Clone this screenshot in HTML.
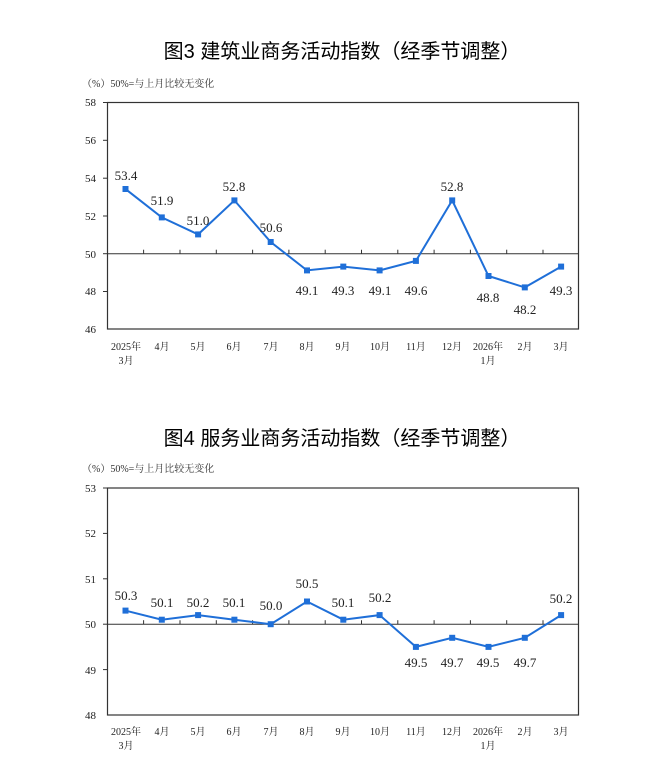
<!DOCTYPE html>
<html><head><meta charset="utf-8"><style>
body{margin:0;background:#fff;}
svg{display:block}
.t{font-family:"Liberation Sans","Noto Sans CJK SC",sans-serif;font-size:20px;fill:#000;text-anchor:middle}
.s{font-family:"Liberation Serif","Noto Serif CJK SC",serif;font-size:10px;fill:#333}
.v{font-family:"Liberation Serif",serif;font-size:13px;fill:#222;text-anchor:middle}
.y{font-family:"Liberation Serif",serif;font-size:11px;fill:#222;text-anchor:end}
.x{font-family:"Liberation Serif","Noto Serif CJK SC",serif;font-size:10px;fill:#222;text-anchor:middle}
</style></head><body>
<svg width="672" height="784" xmlns="http://www.w3.org/2000/svg">
<text class="t" x="342" y="58">图3  建筑业商务活动指数（经季节调整）</text>
<text class="s" x="82" y="87">（%）50%=与上月比较无变化</text>
<rect x="107.5" y="102.5" width="471" height="226.5" fill="none" stroke="#333" stroke-width="1.2"/>
<line x1="107" y1="253.7" x2="579" y2="253.7" stroke="#333" stroke-width="1"/>
<g stroke="#333"><line x1="103" y1="102.5" x2="107" y2="102.5"/><line x1="103" y1="140.3" x2="107" y2="140.3"/><line x1="103" y1="178.2" x2="107" y2="178.2"/><line x1="103" y1="216" x2="107" y2="216"/><line x1="103" y1="253.7" x2="107" y2="253.7"/><line x1="103" y1="291.5" x2="107" y2="291.5"/>
<line x1="143.6" y1="249.7" x2="143.6" y2="253.7"/><line x1="180" y1="249.7" x2="180" y2="253.7"/><line x1="216.3" y1="249.7" x2="216.3" y2="253.7"/><line x1="252.6" y1="249.7" x2="252.6" y2="253.7"/><line x1="288.9" y1="249.7" x2="288.9" y2="253.7"/><line x1="325.2" y1="249.7" x2="325.2" y2="253.7"/><line x1="361.5" y1="249.7" x2="361.5" y2="253.7"/><line x1="397.8" y1="249.7" x2="397.8" y2="253.7"/><line x1="434.1" y1="249.7" x2="434.1" y2="253.7"/><line x1="470.4" y1="249.7" x2="470.4" y2="253.7"/><line x1="506.7" y1="249.7" x2="506.7" y2="253.7"/><line x1="543" y1="249.7" x2="543" y2="253.7"/></g>
<text class="y" x="96" y="106">58</text><text class="y" x="96" y="144">56</text><text class="y" x="96" y="182">54</text><text class="y" x="96" y="220">52</text><text class="y" x="96" y="258">50</text><text class="y" x="96" y="295">48</text><text class="y" x="96" y="333">46</text>
<polyline fill="none" stroke="#1f6fd8" stroke-width="2" points="125.5,189 161.8,217.4 198.1,234.4 234.4,200.4 270.7,242 307,270.4 343.3,266.6 379.6,270.4 415.9,260.9 452.2,200.4 488.5,276 524.8,287.4 561.1,266.6"/>
<g fill="#1f6fd8"><rect x="122.5" y="186" width="6" height="6"/><rect x="158.8" y="214.4" width="6" height="6"/><rect x="195.1" y="231.4" width="6" height="6"/><rect x="231.4" y="197.4" width="6" height="6"/><rect x="267.7" y="239" width="6" height="6"/><rect x="304" y="267.4" width="6" height="6"/><rect x="340.3" y="263.6" width="6" height="6"/><rect x="376.6" y="267.4" width="6" height="6"/><rect x="412.9" y="257.9" width="6" height="6"/><rect x="449.2" y="197.4" width="6" height="6"/><rect x="485.5" y="273" width="6" height="6"/><rect x="521.8" y="284.4" width="6" height="6"/><rect x="558.1" y="263.6" width="6" height="6"/></g>
<text class="v" x="126" y="180">53.4</text><text class="v" x="162" y="205">51.9</text><text class="v" x="198" y="225">51.0</text><text class="v" x="234" y="191">52.8</text><text class="v" x="271" y="232">50.6</text><text class="v" x="307" y="295">49.1</text><text class="v" x="343" y="295">49.3</text><text class="v" x="380" y="295">49.1</text><text class="v" x="416" y="295">49.6</text><text class="v" x="452" y="191">52.8</text><text class="v" x="488" y="302">48.8</text><text class="v" x="525" y="314">48.2</text><text class="v" x="561" y="295">49.3</text>
<g class="x"><text class="x" x="126" y="350">2025年</text><text class="x" x="126" y="364">3月</text><text class="x" x="162" y="350">4月</text><text class="x" x="198" y="350">5月</text><text class="x" x="234" y="350">6月</text><text class="x" x="271" y="350">7月</text><text class="x" x="307" y="350">8月</text><text class="x" x="343" y="350">9月</text><text class="x" x="380" y="350">10月</text><text class="x" x="416" y="350">11月</text><text class="x" x="452" y="350">12月</text><text class="x" x="488" y="350">2026年</text><text class="x" x="488" y="364">1月</text><text class="x" x="525" y="350">2月</text><text class="x" x="561" y="350">3月</text></g>

<text class="t" x="342" y="445">图4  服务业商务活动指数（经季节调整）</text>
<text class="s" x="82" y="472">（%）50%=与上月比较无变化</text>
<rect x="107.5" y="488" width="471" height="227" fill="none" stroke="#333" stroke-width="1.2"/>
<line x1="107" y1="624.2" x2="579" y2="624.2" stroke="#333" stroke-width="1"/>
<g stroke="#333"><line x1="103" y1="488" x2="107" y2="488"/><line x1="103" y1="533.4" x2="107" y2="533.4"/><line x1="103" y1="578.8" x2="107" y2="578.8"/><line x1="103" y1="624.2" x2="107" y2="624.2"/><line x1="103" y1="669.6" x2="107" y2="669.6"/>
<line x1="143.6" y1="620.2" x2="143.6" y2="624.2"/><line x1="180" y1="620.2" x2="180" y2="624.2"/><line x1="216.3" y1="620.2" x2="216.3" y2="624.2"/><line x1="252.6" y1="620.2" x2="252.6" y2="624.2"/><line x1="288.9" y1="620.2" x2="288.9" y2="624.2"/><line x1="325.2" y1="620.2" x2="325.2" y2="624.2"/><line x1="361.5" y1="620.2" x2="361.5" y2="624.2"/><line x1="397.8" y1="620.2" x2="397.8" y2="624.2"/><line x1="434.1" y1="620.2" x2="434.1" y2="624.2"/><line x1="470.4" y1="620.2" x2="470.4" y2="624.2"/><line x1="506.7" y1="620.2" x2="506.7" y2="624.2"/><line x1="543" y1="620.2" x2="543" y2="624.2"/></g>
<text class="y" x="96" y="492">53</text><text class="y" x="96" y="537">52</text><text class="y" x="96" y="583">51</text><text class="y" x="96" y="628">50</text><text class="y" x="96" y="674">49</text><text class="y" x="96" y="719">48</text>
<polyline fill="none" stroke="#1f6fd8" stroke-width="2" points="125.5,610.6 161.8,619.7 198.1,615.1 234.4,619.7 270.7,624.2 307,601.5 343.3,619.7 379.6,615.1 415.9,646.9 452.2,637.8 488.5,646.9 524.8,637.8 561.1,615.1"/>
<g fill="#1f6fd8"><rect x="122.5" y="607.6" width="6" height="6"/><rect x="158.8" y="616.7" width="6" height="6"/><rect x="195.1" y="612.1" width="6" height="6"/><rect x="231.4" y="616.7" width="6" height="6"/><rect x="267.7" y="621.2" width="6" height="6"/><rect x="304" y="598.5" width="6" height="6"/><rect x="340.3" y="616.7" width="6" height="6"/><rect x="376.6" y="612.1" width="6" height="6"/><rect x="412.9" y="643.9" width="6" height="6"/><rect x="449.2" y="634.8" width="6" height="6"/><rect x="485.5" y="643.9" width="6" height="6"/><rect x="521.8" y="634.8" width="6" height="6"/><rect x="558.1" y="612.1" width="6" height="6"/></g>
<text class="v" x="126" y="600">50.3</text><text class="v" x="162" y="607">50.1</text><text class="v" x="198" y="607">50.2</text><text class="v" x="234" y="607">50.1</text><text class="v" x="271" y="610">50.0</text><text class="v" x="307" y="588">50.5</text><text class="v" x="343" y="607">50.1</text><text class="v" x="380" y="602">50.2</text><text class="v" x="416" y="667">49.5</text><text class="v" x="452" y="667">49.7</text><text class="v" x="488" y="667">49.5</text><text class="v" x="525" y="667">49.7</text><text class="v" x="561" y="603">50.2</text>
<g><text class="x" x="126" y="735">2025年</text><text class="x" x="126" y="749">3月</text><text class="x" x="162" y="735">4月</text><text class="x" x="198" y="735">5月</text><text class="x" x="234" y="735">6月</text><text class="x" x="271" y="735">7月</text><text class="x" x="307" y="735">8月</text><text class="x" x="343" y="735">9月</text><text class="x" x="380" y="735">10月</text><text class="x" x="416" y="735">11月</text><text class="x" x="452" y="735">12月</text><text class="x" x="488" y="735">2026年</text><text class="x" x="488" y="749">1月</text><text class="x" x="525" y="735">2月</text><text class="x" x="561" y="735">3月</text></g>
</svg>
</body></html>
